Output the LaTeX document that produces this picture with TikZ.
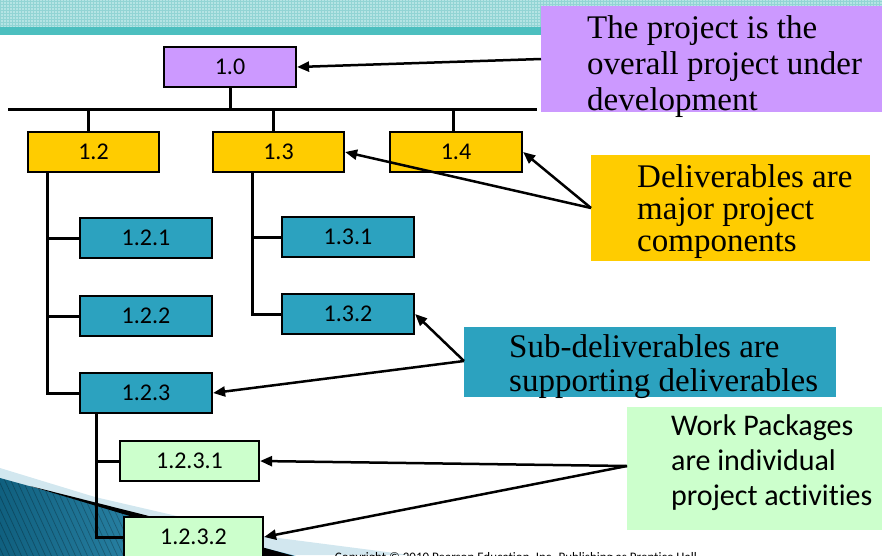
\documentclass[tikz,border=0pt]{standalone}
\usepackage{fontspec}
\setmainfont{Liberation Serif}
\newfontfamily\calib[Ligatures=NoCommon]{Carlito}
\usetikzlibrary{arrows.meta}

\definecolor{wbsPurple}{HTML}{CC99FF}
\definecolor{wbsGold}{HTML}{FFCC00}
\definecolor{wbsTeal}{HTML}{2CA2BF}
\definecolor{wbsGreen}{HTML}{CCFFCC}
\definecolor{bandLight}{HTML}{B5E4E4}
\definecolor{bandGrid}{HTML}{92D4D4}
\definecolor{bandDark}{HTML}{4CBFBF}
\definecolor{swooshLight}{HTML}{D2E7EF}
\definecolor{swooshDark}{HTML}{10607F}
\definecolor{swooshMid}{HTML}{46A9CF}

\begin{document}
\begin{tikzpicture}[x=1pt,y=-1pt,
  wbs/.style={draw=black, line width=2.2pt, minimum width=132pt, minimum height=40pt,
              inner sep=0pt, font=\calib\fontsize{24}{28}\selectfont},
  tree/.style={line width=3pt},
  pointer/.style={line width=2.5pt, -{Triangle[length=12pt,width=10pt]}},
  panel/.style={anchor=north west, inner sep=0pt, draw=none},
  serifline/.style={anchor=base west, inner sep=0pt, font=\fontsize{33}{36}\selectfont},
  sansline/.style={anchor=base west, inner sep=0pt, font=\calib\fontsize{30}{36}\selectfont},
]
\useasboundingbox (0,0) rectangle (882,555);
\clip (0,0) rectangle (882,555);

% slide header band with fine grid
\fill[bandLight] (0,0) rectangle (882,27);
\foreach \gx in {0,3,...,882} \draw[bandGrid, line width=0.6pt] (\gx,0) -- (\gx,27);
\foreach \gy in {1.5,4.5,...,27} \draw[bandGrid, line width=0.6pt] (0,\gy) -- (882,\gy);
\fill[bandDark] (0,27) rectangle (882,35);

% slide footer swoosh
\fill[swooshLight] (0,468) -- (95,497) -- (263,536) -- (410,555) -- (0,555) -- cycle;
\begin{scope}
  \clip (0,478) -- (145,518) -- (300,557) -- (0,557) -- cycle;
  \shade[left color=swooshDark, right color=swooshMid] (0,470) rectangle (300,557);
  \foreach \sx in {-60,-54,...,300}
    \draw[black, opacity=0.25, line width=0.7pt] (\sx,470) -- (\sx+40,557);
\end{scope}
\fill[black] (30,486) -- (145,515) -- (294,556) -- (250,560) -- (145,520.5) -- cycle;
\node[anchor=base east, inner sep=0pt, font=\calib\fontsize{13}{15}\selectfont] (copyr)
  at (697,561) {Copyright \textcopyright{} 2010 Pearson Education, Inc. Publishing as Prentice Hall};

% WBS boxes
\node[wbs, fill=wbsPurple] (n10) at (230,67) {1.0};
\node[wbs, fill=wbsGold, minimum width=131pt] (n12) at (93.5,152) {1.2};
\node[wbs, fill=wbsGold, minimum width=131pt] (n13) at (278.5,152) {1.3};
\node[wbs, fill=wbsGold] (n14) at (456,152) {1.4};
\node[wbs, fill=wbsTeal] (n121) at (146,238) {1.2.1};
\node[wbs, fill=wbsTeal] (n122) at (146,316) {1.2.2};
\node[wbs, fill=wbsTeal] (n123) at (146,393) {1.2.3};
\node[wbs, fill=wbsTeal] (n131) at (348,237) {1.3.1};
\node[wbs, fill=wbsTeal] (n132) at (348,314) {1.3.2};
\node[wbs, fill=wbsGreen, minimum width=139pt] (n1231) at (189.5,461) {1.2.3.1};
\node[wbs, fill=wbsGreen, minimum width=139pt] (n1232) at (193.5,537) {1.2.3.2};

% tree connectors
\coordinate (busL) at (8,109);
\coordinate (busR) at (537,109);
\coordinate (spA) at (47,0);
\coordinate (spB) at (252,0);
\coordinate (spC) at (96,0);
\draw[tree] (busL) -- (busR);
\draw[tree] (n10.south) -- (n10.south |- busL);
\draw[tree] ([xshift=-5.5pt]n12.north) -- ([xshift=-5.5pt]n12.north |- busL);
\draw[tree] ([xshift=-5.5pt]n13.north) -- ([xshift=-5.5pt]n13.north |- busL);
\draw[tree] ([xshift=-3pt]n14.north) -- ([xshift=-3pt]n14.north |- busL);
\draw[tree] (spA |- n12.south) |- (n123.west);
\draw[tree] (spA |- n121.west) -- (n121.west);
\draw[tree] (spA |- n122.west) -- (n122.west);
\draw[tree] (spB |- n13.south) |- (n132.west);
\draw[tree] (spB |- n131.west) -- (n131.west);
\draw[tree] (spC |- n123.south) |- (n1232.west);
\draw[tree] (spC |- n1231.west) -- (n1231.west);

% explanatory panels
\node[panel, fill=wbsPurple, minimum width=342pt, minimum height=106pt] (pProj) at (541,6) {};
\node[serifline] (pProj1) at (587,38) {The project is the};
\node[serifline] (pProj2) at (587,74) {overall project under};
\node[serifline] (pProj3) at (587,110) {development};

\node[panel, fill=wbsGold, minimum width=279pt, minimum height=106pt] (pDel) at (591,155) {};
\node[serifline] (pDel1) at (637,187) {Deliverables are};
\node[serifline] (pDel2) at (637,219) {major project};
\node[serifline] (pDel3) at (637,251) {components};

\node[panel, fill=wbsTeal, minimum width=372pt, minimum height=70pt] (pSub) at (464,327) {};
\node[serifline] (pSub1) at (509,357) {Sub-deliverables are};
\node[serifline] (pSub2) at (509,391) {supporting deliverables};

\node[panel, fill=wbsGreen, minimum width=260pt, minimum height=123pt] (pWork) at (627,407) {};
\node[sansline] (pWork1) at (671,435) {Work Packages};
\node[sansline] (pWork2) at (671,470) {are individual};
\node[sansline] (pWork3) at (671,505) {project activities};

% pointer arrows
\coordinate (srcProj) at (541,59);
\coordinate (srcDel) at (591,208);
\coordinate (srcSub) at (464,361);
\coordinate (srcWork) at (627,466);
\draw[pointer] (srcProj) -- (n10.east);
\draw[pointer] (srcDel) -- (n13.east);
\draw[pointer] (srcDel) -- (n14.east);
\draw[pointer] (srcSub) -- (n132.east);
\draw[pointer] (srcSub) -- (n123.east);
\draw[pointer] (srcWork) -- (n1231.east);
\draw[pointer] (srcWork) -- (n1232.east);
\end{tikzpicture}
\end{document}
